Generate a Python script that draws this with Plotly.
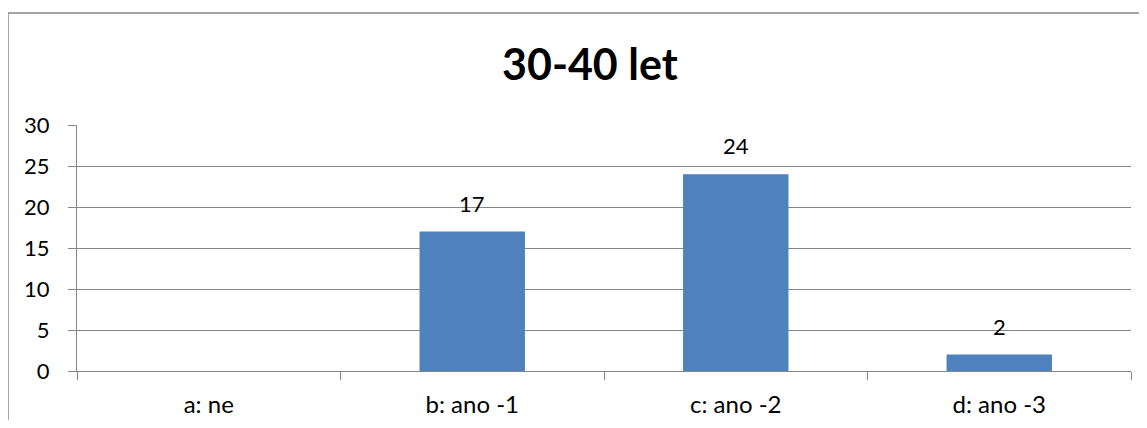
import plotly.graph_objects as go

categories = ["a: ne", "b: ano -1", "c: ano -2", "d: ano -3"]
values = [None, 17, 24, 2]
title_text = "30-40 let"
y_ticks = [0, 5, 10, 15, 20, 25, 30]

FONT = "Lato, 'Open Sans', 'Liberation Sans', sans-serif"
GRID = "#868686"

# figure coordinates (page has 8px body margin)
W, H = 1131, 412
L, R, T, B = 69, 1123, 117, 363

fig = go.Figure()
fig.add_trace(go.Bar(
    x=categories, y=values, width=0.4,
    marker=dict(color="#4F81BD", line=dict(width=0)),
    hoverinfo="x+y",
))

for c, v in zip(categories, values):
    if v is None:
        continue
    fig.add_annotation(x=c, y=v, text=str(v), showarrow=False,
                       yanchor="bottom", yshift=13,
                       font=dict(family=FONT, size=22, color="#000000"))

fig.add_annotation(xref="paper", yref="paper",
                   x=(582 - L) / (R - L), y=(B - 55) / (B - T),
                   text="<b>%s</b>" % title_text, showarrow=False,
                   xanchor="center", yanchor="middle",
                   font=dict(family=FONT, size=43, color="#000000"))

# chart-area border: only top and left edges are visible in the window
bx0 = (0 - L) / (R - L)
by1 = (B - 5) / (B - T)
fig.add_shape(type="line", xref="paper", yref="paper",
              x0=bx0, x1=1.3, y0=by1, y1=by1,
              line=dict(color="#878787", width=1.5), layer="below")
fig.add_shape(type="line", xref="paper", yref="paper",
              x0=bx0, x1=bx0, y0=-0.6, y1=by1,
              line=dict(color="#878787", width=1.5), layer="below")

fig.update_layout(
    width=W, height=H,
    margin=dict(l=L, r=W - R, t=T, b=H - B, autoexpand=False),
    paper_bgcolor="white", plot_bgcolor="white",
    showlegend=False,
    font=dict(family=FONT, size=22, color="#000000"),
    xaxis=dict(
        type="category", tickson="boundaries", ticks="outside", ticklen=8,
        tickcolor=GRID, showline=True, linecolor=GRID, linewidth=1,
        showgrid=False, ticklabelstandoff=12,
        tickfont=dict(family=FONT, size=24, color="#000000"),
    ),
    yaxis=dict(
        range=[0, 30], tickvals=y_ticks, ticks="outside", ticklen=8,
        tickcolor=GRID, showline=True, linecolor=GRID, linewidth=1,
        showgrid=True, gridcolor=GRID, gridwidth=1, zeroline=False,
        ticklabelstandoff=14,
        tickfont=dict(family=FONT, size=22, color="#000000"),
    ),
    bargap=0.6,
)

fig.write_html("out.html")
